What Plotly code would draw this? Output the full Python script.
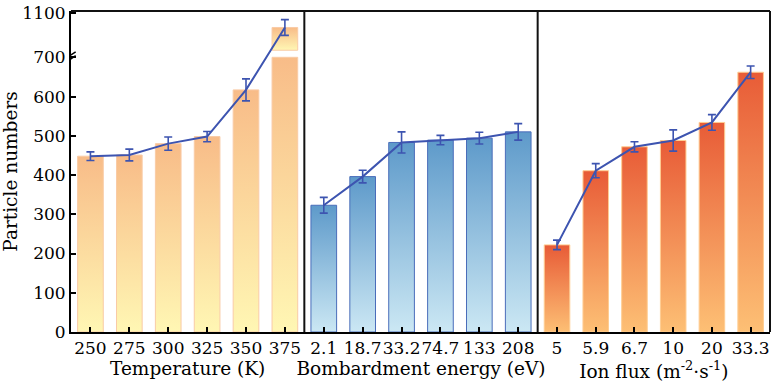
import plotly.graph_objects as go

# ---------------- data ----------------
temp_labels = ["250", "275", "300", "325", "350", "375"]
temp_values = [448, 451, 480, 498, 617, 1062]
temp_errors = [11, 15, 17, 13, 28, 20]

energy_labels = ["2.1", "18.7", "33.2", "74.7", "133", "208"]
energy_values = [323, 396, 483, 489, 494, 510]
energy_errors = [20, 16, 27, 12, 15, 21]

flux_labels = ["5", "5.9", "6.7", "10", "20", "33.3"]
flux_values = [222, 411, 472, 488, 534, 662]
flux_errors = [12, 18, 13, 27, 20, 16]

y_tick_vals = [0, 100, 200, 300, 400, 500, 600, 700, 1100]

# broken-axis settings: lower part 0..700, upper part 1004..1100
BREAK_LOW = 700
BREAK_HIGH = 1004
GAP = 18
OFFSET = BREAK_HIGH - (BREAK_LOW + GAP)


def disp(v):
    return v if v <= BREAK_LOW else v - OFFSET


panels = [
    dict(labels=temp_labels, values=temp_values, errors=temp_errors,
         top="#F8BC88", bottom="#FFF7B4", border="#F9CBA6",
         title="Temperature (K)", xa="x", xname="xaxis"),
    dict(labels=energy_labels, values=energy_values, errors=energy_errors,
         top="#5E9ACA", bottom="#CCE8F4", border="#4A6DBA",
         title="Bombardment energy (eV)", xa="x2", xname="xaxis2"),
    dict(labels=flux_labels, values=flux_values, errors=flux_errors,
         top="#E85C37", bottom="#FDC075", border="#FFCD92",
         title="Ion flux (m<sup>-2</sup>·s<sup>-1</sup>)", xa="x3", xname="xaxis3"),
]

LINE_COLOR = "#3D54B0"
BAR_W = 0.66

fig = go.Figure()


def add_rect(xc, y0, y1, p):
    h = BAR_W / 2
    fig.add_trace(go.Scatter(
        x=[xc - h, xc + h, xc + h, xc - h, xc - h],
        y=[y0, y0, y1, y1, y0],
        mode="lines", fill="toself",
        fillgradient=dict(type="vertical",
                          colorscale=[[0, p["bottom"]], [1, p["top"]]],
                          start=y0, stop=y1),
        line=dict(color=p["border"], width=1),
        xaxis=p["xa"], yaxis="y", showlegend=False, hoverinfo="skip"))


for p in panels:
    xs = list(range(len(p["labels"])))
    for xc, v in zip(xs, p["values"]):
        if v <= BREAK_LOW:
            add_rect(xc, 0, v, p)
        else:
            add_rect(xc, 0, BREAK_LOW, p)
            add_rect(xc, BREAK_LOW + GAP, disp(v), p)
    fig.add_trace(go.Scatter(
        x=xs, y=[disp(v) for v in p["values"]], mode="lines",
        line=dict(color=LINE_COLOR, width=2),
        error_y=dict(type="data", array=p["errors"], color=LINE_COLOR,
                     thickness=1.6, width=4),
        xaxis=p["xa"], yaxis="y", showlegend=False, hoverinfo="skip"))

FONT = "DejaVu Serif"
TICK_SIZE = 17
TITLE_SIZE = 18.5
left, right = 69, 770
W = right - left
d1 = (303 - left) / W
d2 = (537 - left) / W
domains = [[0, d1], [d1, d2], [d2, 1]]

layout = dict(
    width=773, height=386,
    margin=dict(l=left, r=773 - right, t=10, b=54),
    paper_bgcolor="white", plot_bgcolor="white",
    font=dict(family=FONT, size=TICK_SIZE, color="black"),
    showlegend=False,
    yaxis=dict(range=[0, 818],
               tickvals=[disp(v) for v in y_tick_vals],
               ticktext=[str(v) for v in y_tick_vals],
               ticks="inside", ticklen=5, tickwidth=1.5, tickcolor="black",
               showline=True, linewidth=2, linecolor="black",
               showgrid=False, zeroline=False, ticklabeloverflow="allow",
               title=dict(text="Particle numbers", font=dict(family=FONT, size=TITLE_SIZE), standoff=6),
               tickfont=dict(family=FONT, size=TICK_SIZE)),
)
for p, dom in zip(panels, domains):
    layout[p["xname"]] = dict(
        domain=dom, range=[-0.5, 5.5], anchor="y",
        tickvals=list(range(len(p["labels"]))), ticktext=p["labels"],
        tickangle=0,
        ticks="inside", ticklen=5, tickwidth=1.5, tickcolor="black",
        showline=True, linewidth=2, linecolor="black",
        showgrid=False, zeroline=False, ticklabeloverflow="allow",
        tickfont=dict(family=FONT, size=TICK_SIZE),
        title=dict(text=p["title"], font=dict(family=FONT, size=TITLE_SIZE), standoff=0),
    )
fig.update_layout(**layout)

# frame: top, right, dividers
frame = dict(color="#111111", width=2)
fig.add_shape(type="line", xref="paper", yref="paper", x0=0, x1=1, y0=1, y1=1, line=frame)
fig.add_shape(type="line", xref="paper", yref="paper", x0=1, x1=1, y0=0, y1=1, line=frame)
fig.add_shape(type="line", xref="paper", yref="paper", x0=d1, x1=d1, y0=0, y1=1, line=frame)
fig.add_shape(type="line", xref="paper", yref="paper", x0=d2, x1=d2, y0=0, y1=1, line=frame)

# axis break marks "//"
for yb in [BREAK_LOW - 4, BREAK_LOW + 6]:
    fig.add_shape(type="line", xref="x", yref="y",
                  x0=-0.62, x1=-0.38, y0=yb - 8, y1=yb + 8,
                  line=dict(color="black", width=1.5))

fig.write_html("out.html")
